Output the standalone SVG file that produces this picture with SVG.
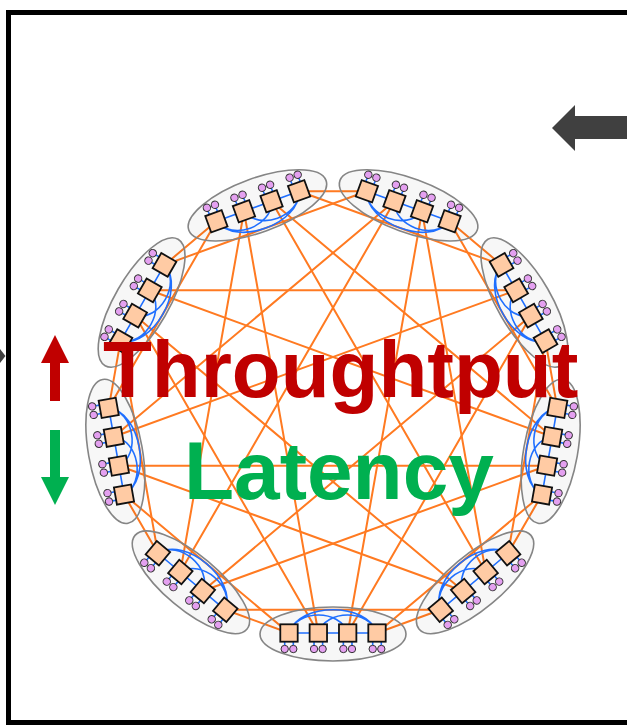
<svg xmlns="http://www.w3.org/2000/svg" width="627" height="728" viewBox="0 0 627 728">
  <style>
    .frame{fill:none;stroke:#000;stroke-width:5}
    .pointer{fill:#404040}
    #global-links line{stroke:#FF7A21;stroke-width:2;stroke-linecap:round}
    .halo{fill:#000;fill-opacity:0.032;stroke:#858585;stroke-width:1.6}
    .lnk{fill:none;stroke:#1F6FFF;stroke-width:1.6}
    .rt{fill:#FFCBA4;stroke:#111;stroke-width:1.8}
    .tm{fill:#E4A0F0;stroke:#333;stroke-width:1}
    .big{font-family:"Liberation Sans",Arial,sans-serif;font-weight:bold}
  </style>
  <defs>
    <!-- one router with its two terminals, centred on the router -->
    <g id="router">
      <path class="lnk" d="M-4.3,8.5 V12.3 M4.3,8.5 V12.3"/>
      <rect class="rt" x="-8.7" y="-8.7" width="17.4" height="17.4"/>
      <circle class="tm" cx="-4.3" cy="16" r="3.7"/>
      <circle class="tm" cx="4.3" cy="16" r="3.7"/>
    </g>
    <!-- all-to-all local links of a four-router group -->
    <path id="intra" class="lnk" d="M-44,-1 H44 M-44,-1 C-36,-25 7,-25 14.67,-1 M-14.67,-1 C-7,-25 36,-25 44,-1 M-44,-1 C-34,-32 34,-32 44,-1"/>
  </defs>

  <!-- outer frame, open on the right -->
  <path class="frame" d="M627,12.5 H8.5 V722.5 H627"/>
  <polygon class="pointer" points="552,128 575,105 575,116 627,116 627,139 575,139 575,151"/>
  <polygon class="pointer" points="0,349 5.5,356 0,363"/>

  <!-- global links between groups -->
  <g id="global-links">
    <line x1="377" y1="633" x2="440.7" y2="609.8"/>
    <line x1="225.3" y1="609.8" x2="289" y2="633"/>
    <line x1="124" y1="494.5" x2="157.9" y2="553.2"/>
    <line x1="120.5" y1="341.1" x2="108.7" y2="407.9"/>
    <line x1="216.4" y1="221.3" x2="164.5" y2="264.9"/>
    <line x1="366.9" y1="191.2" x2="299.1" y2="191.2"/>
    <line x1="501.5" y1="264.9" x2="449.6" y2="221.3"/>
    <line x1="557.3" y1="407.9" x2="545.5" y2="341.1"/>
    <line x1="508.1" y1="553.2" x2="542" y2="494.5"/>

    <line x1="377" y1="633" x2="542" y2="494.5"/>
    <line x1="225.3" y1="609.8" x2="440.7" y2="609.8"/>
    <line x1="124" y1="494.5" x2="289" y2="633"/>
    <line x1="120.5" y1="341.1" x2="157.9" y2="553.2"/>
    <line x1="216.4" y1="221.3" x2="108.7" y2="407.9"/>
    <line x1="366.9" y1="191.2" x2="164.5" y2="264.9"/>
    <line x1="501.5" y1="264.9" x2="299.1" y2="191.2"/>
    <line x1="557.3" y1="407.9" x2="449.6" y2="221.3"/>
    <line x1="508.1" y1="553.2" x2="545.5" y2="341.1"/>

    <line x1="347.7" y1="633" x2="530.9" y2="315.7"/>
    <line x1="202.8" y1="591" x2="547.1" y2="465.7"/>
    <line x1="118.9" y1="465.7" x2="463.2" y2="591"/>
    <line x1="135.2" y1="315.7" x2="318.3" y2="633"/>
    <line x1="244" y1="211.3" x2="180.3" y2="572.1"/>
    <line x1="394.5" y1="201.3" x2="113.8" y2="436.8"/>
    <line x1="516.2" y1="290.3" x2="149.8" y2="290.3"/>
    <line x1="552.2" y1="436.8" x2="271.5" y2="201.3"/>
    <line x1="485.7" y1="572.1" x2="422" y2="211.3"/>

    <line x1="347.7" y1="633" x2="422" y2="211.3"/>
    <line x1="202.8" y1="591" x2="530.9" y2="315.7"/>
    <line x1="118.9" y1="465.7" x2="547.1" y2="465.7"/>
    <line x1="135.2" y1="315.7" x2="463.2" y2="591"/>
    <line x1="244" y1="211.3" x2="318.3" y2="633"/>
    <line x1="394.5" y1="201.3" x2="180.3" y2="572.1"/>
    <line x1="516.2" y1="290.3" x2="113.8" y2="436.8"/>
    <line x1="552.2" y1="436.8" x2="149.8" y2="290.3"/>
    <line x1="485.7" y1="572.1" x2="271.5" y2="201.3"/>
  </g>

  <!-- nine router groups placed on a ring -->
  <g id="group-0" transform="translate(333,634)">
    <ellipse class="halo" rx="73" ry="27"/>
    <use href="#intra"/>
    <use id="r0-0" href="#router" x="44" y="-1"/>
    <use id="r0-1" href="#router" x="14.67" y="-1"/>
    <use id="r0-2" href="#router" x="-14.67" y="-1"/>
    <use id="r0-3" href="#router" x="-44" y="-1"/>
  </g>
  <g id="group-1" transform="translate(190.94,582.29) rotate(40)">
    <ellipse class="halo" rx="73" ry="27"/>
    <use href="#intra"/>
    <use id="r1-0" href="#router" x="44" y="-1"/>
    <use id="r1-1" href="#router" x="14.67" y="-1"/>
    <use id="r1-2" href="#router" x="-14.67" y="-1"/>
    <use id="r1-3" href="#router" x="-44" y="-1"/>
  </g>
  <g id="group-2" transform="translate(115.36,451.38) rotate(80)">
    <ellipse class="halo" rx="73" ry="27"/>
    <use href="#intra"/>
    <use id="r2-0" href="#router" x="44" y="-1"/>
    <use id="r2-1" href="#router" x="14.67" y="-1"/>
    <use id="r2-2" href="#router" x="-14.67" y="-1"/>
    <use id="r2-3" href="#router" x="-44" y="-1"/>
  </g>
  <g id="group-3" transform="translate(141.61,302.5) rotate(120)">
    <ellipse class="halo" rx="73" ry="27"/>
    <use href="#intra"/>
    <use id="r3-0" href="#router" x="44" y="-1"/>
    <use id="r3-1" href="#router" x="14.67" y="-1"/>
    <use id="r3-2" href="#router" x="-14.67" y="-1"/>
    <use id="r3-3" href="#router" x="-44" y="-1"/>
  </g>
  <g id="group-4" transform="translate(257.41,205.33) rotate(160)">
    <ellipse class="halo" rx="73" ry="27"/>
    <use href="#intra"/>
    <use id="r4-0" href="#router" x="44" y="-1"/>
    <use id="r4-1" href="#router" x="14.67" y="-1"/>
    <use id="r4-2" href="#router" x="-14.67" y="-1"/>
    <use id="r4-3" href="#router" x="-44" y="-1"/>
  </g>
  <g id="group-5" transform="translate(408.59,205.33) rotate(200)">
    <ellipse class="halo" rx="73" ry="27"/>
    <use href="#intra"/>
    <use id="r5-0" href="#router" x="44" y="-1"/>
    <use id="r5-1" href="#router" x="14.67" y="-1"/>
    <use id="r5-2" href="#router" x="-14.67" y="-1"/>
    <use id="r5-3" href="#router" x="-44" y="-1"/>
  </g>
  <g id="group-6" transform="translate(524.39,302.5) rotate(240)">
    <ellipse class="halo" rx="73" ry="27"/>
    <use href="#intra"/>
    <use id="r6-0" href="#router" x="44" y="-1"/>
    <use id="r6-1" href="#router" x="14.67" y="-1"/>
    <use id="r6-2" href="#router" x="-14.67" y="-1"/>
    <use id="r6-3" href="#router" x="-44" y="-1"/>
  </g>
  <g id="group-7" transform="translate(550.64,451.38) rotate(280)">
    <ellipse class="halo" rx="73" ry="27"/>
    <use href="#intra"/>
    <use id="r7-0" href="#router" x="44" y="-1"/>
    <use id="r7-1" href="#router" x="14.67" y="-1"/>
    <use id="r7-2" href="#router" x="-14.67" y="-1"/>
    <use id="r7-3" href="#router" x="-44" y="-1"/>
  </g>
  <g id="group-8" transform="translate(475.06,582.29) rotate(320)">
    <ellipse class="halo" rx="73" ry="27"/>
    <use href="#intra"/>
    <use id="r8-0" href="#router" x="44" y="-1"/>
    <use id="r8-1" href="#router" x="14.67" y="-1"/>
    <use id="r8-2" href="#router" x="-14.67" y="-1"/>
    <use id="r8-3" href="#router" x="-44" y="-1"/>
  </g>

  <!-- headline labels with trend arrows -->
  <g id="throughput-label">
    <polygon fill="#C00000" points="55,335 69,363 60,363 60,401 50,401 50,363 41,363"/>
    <text class="big" x="103" y="397" font-size="80" fill="#C00000">Throughtput</text>
  </g>
  <g id="latency-label">
    <polygon fill="#00B050" points="55,505 69,477 60,477 60,430 50,430 50,477 41,477"/>
    <text class="big" x="184" y="499" font-size="82" fill="#00B050">Latency</text>
  </g>
</svg>
